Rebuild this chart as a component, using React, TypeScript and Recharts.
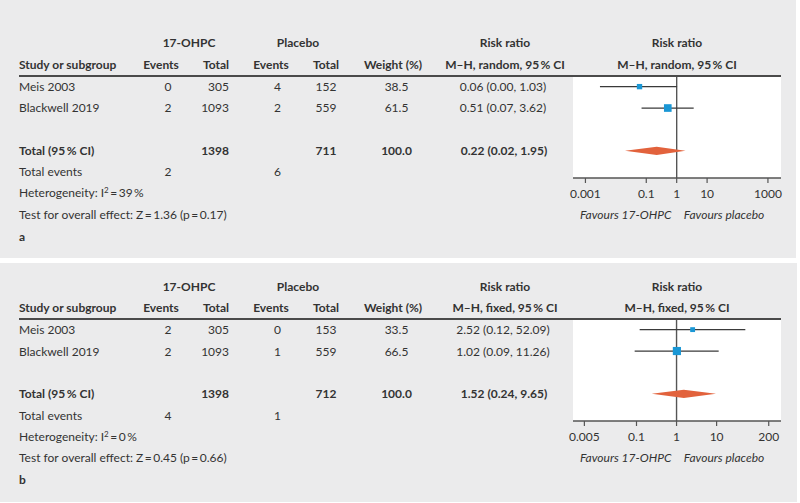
import React from 'react';
import { ScatterChart, Scatter, XAxis, YAxis, ReferenceLine, CartesianGrid } from 'recharts';

const studies = ['Meis 2003', 'Blackwell 2019'];

// a – random effects
const aEvents17 = [0, 2];
const aTotal17 = [305, 1093];
const aEventsPlacebo = [4, 2];
const aTotalPlacebo = [152, 559];
const aWeight = [38.5, 61.5];
const aRR = [0.06, 0.51];
const aLow = [0.003, 0.07];
const aHigh = [1.03, 3.62];
const aPooled = [0.22, 0.02, 1.95];
const aTicks = [0.001, 0.1, 1, 10, 1000];
const aStats = { i2: 39, z: '1.36', p: '0.17' };

// b – fixed effects
const bEvents17 = [2, 2];
const bTotal17 = [305, 1093];
const bEventsPlacebo = [0, 1];
const bTotalPlacebo = [153, 559];
const bWeight = [33.5, 66.5];
const bRR = [2.52, 1.02];
const bLow = [0.12, 0.09];
const bHigh = [52.09, 11.26];
const bPooled = [1.52, 0.24, 9.65];
const bTicks = [0.005, 0.1, 1, 10, 200];
const bStats = { i2: 0, z: '0.45', p: '0.66' };

const TEXT = '#333333';
const AXIS = '#555555';
const BLUE = '#1a97d5';
const ORANGE = '#e2623c';
const PANEL_BG = '#ebebec';
const POOLED_ROW = 3;

const sum = (arr: number[]) => arr.reduce((s, v) => s + v, 0);
const ci = (rr: number, lo: number, hi: number) => `${rr.toFixed(2)} (${lo.toFixed(2)}, ${hi.toFixed(2)})`;

function T({ x, y, align = 'left', bold, italic, children }: any) {
  const tx = align === 'center' ? '-50%' : align === 'right' ? '-100%' : '0';
  return (
    <div
      style={{
        position: 'absolute',
        left: x,
        top: y,
        transform: `translate(${tx}, -50%)`,
        whiteSpace: 'nowrap',
        lineHeight: 1,
        fontWeight: bold ? 700 : 400,
        fontStyle: italic ? 'italic' : 'normal',
      }}
    >
      {children}
    </div>
  );
}

const Square = (props: any) => {
  const s = 1.5 + props.payload.weight * 0.1;
  return <rect x={props.cx - s / 2} y={props.cy - s / 2} width={s} height={s} fill={BLUE} />;
};

const DiamondShape = (props: any) => (
  <polygon points={props.points.map((p: any) => `${p.x},${p.y}`).join(' ')} fill={ORANGE} stroke="none" />
);

function Panel({ off, label, model, events17, total17, eventsPl, totalPl, weight, rr, low, high, pooled, ticks, domain, stats }: any) {
  const squares = rr.map((v: number, i: number) => ({ x: v, y: i, weight: weight[i] }));
  const [prr, plo, phi] = pooled;
  const diamond = [
    { x: plo, y: POOLED_ROW },
    { x: prr, y: POOLED_ROW - 0.19 },
    { x: phi, y: POOLED_ROW },
    { x: prr, y: POOLED_ROW + 0.19 },
  ];
  const rowY = [86.7, 108.3];

  return (
    <div style={{ position: 'absolute', left: 0, top: off, width: 800, height: 260 }}>
      <div style={{ position: 'absolute', left: 0, top: 0 }}>
        <ScatterChart width={800} height={260} margin={{ top: 77, right: 19, bottom: 52, left: 573 }}>
          <CartesianGrid fill="#ffffff" stroke="none" horizontal={false} vertical={false} />
          <XAxis
            type="number"
            dataKey="x"
            scale="log"
            domain={domain}
            ticks={ticks}
            interval={0}
            allowDataOverflow
            tickFormatter={(v: number) => String(v)}
            tick={{ fill: TEXT, fontSize: 12, fontFamily: 'Lato' }}
            axisLine={{ stroke: AXIS, strokeWidth: 1.3 }}
            tickLine={{ stroke: AXIS, strokeWidth: 1.2 }}
            tickSize={5}
            tickMargin={6}
            height={30}
          />
          <YAxis type="number" dataKey="y" domain={[-0.45, 4.27]} reversed hide />
          <ReferenceLine x={1} stroke={AXIS} strokeWidth={1.4} />
          {rr.map((_: number, i: number) => (
            <ReferenceLine
              key={i}
              segment={[{ x: low[i], y: i }, { x: high[i], y: i }]}
              stroke="#3a3a3a"
              strokeWidth={1.3}
            />
          ))}
          <Scatter data={squares} shape={Square} isAnimationActive={false} />
          <Scatter data={diamond} shape={() => <g />} line={DiamondShape} isAnimationActive={false} />
        </ScatterChart>
      </div>

      <div style={{ position: 'absolute', left: 19, top: 75, width: 762, height: 2, background: '#4a4a4a' }} />

      <T x={189} y={43.3} align="center" bold>17-OHPC</T>
      <T x={298} y={43.3} align="center" bold>Placebo</T>
      <T x={505} y={43.3} align="center" bold>Risk ratio</T>
      <T x={677} y={43.3} align="center" bold>Risk ratio</T>

      <T x={19} y={65} bold>Study or subgroup</T>
      <T x={161} y={65} align="center" bold>Events</T>
      <T x={229} y={65} align="right" bold>Total</T>
      <T x={271} y={65} align="center" bold>Events</T>
      <T x={326} y={65} align="center" bold>Total</T>
      <T x={393} y={65} align="center" bold>Weight (%)</T>
      <T x={505} y={65} align="center" bold>{`M–H, ${model}, 95\u2009% CI`}</T>
      <T x={677} y={65} align="center" bold>{`M–H, ${model}, 95\u2009% CI`}</T>

      {studies.map((s, i) => (
        <React.Fragment key={s}>
          <T x={19} y={rowY[i]}>{s}</T>
          <T x={168} y={rowY[i]} align="center">{events17[i]}</T>
          <T x={229} y={rowY[i]} align="right">{total17[i]}</T>
          <T x={277.5} y={rowY[i]} align="center">{eventsPl[i]}</T>
          <T x={326} y={rowY[i]} align="center">{totalPl[i]}</T>
          <T x={396.5} y={rowY[i]} align="center">{weight[i].toFixed(1)}</T>
          <T x={503} y={rowY[i]} align="center">{ci(rr[i], low[i], high[i])}</T>
        </React.Fragment>
      ))}

      <T x={19} y={150.7} bold>Total (95{'\u2009'}% CI)</T>
      <T x={229} y={150.7} align="right" bold>{sum(total17)}</T>
      <T x={326} y={150.7} align="center" bold>{sum(totalPl)}</T>
      <T x={396.5} y={150.7} align="center" bold>{sum(weight).toFixed(1)}</T>
      <T x={504} y={150.7} align="center" bold>{ci(prr, plo, phi)}</T>

      <T x={19} y={172.3}>Total events</T>
      <T x={168} y={172.3} align="center">{sum(events17)}</T>
      <T x={277.5} y={172.3} align="center">{sum(eventsPl)}</T>

      <T x={19} y={193.3}>
        Heterogeneity: I
        <span style={{ fontSize: 8, position: 'relative', top: -4 }}>2</span>
        {`\u2009=\u2009${stats.i2}\u2009%`}
      </T>
      <T x={19} y={215}>{`Test for overall effect: Z\u2009=\u2009${stats.z} (p\u2009=\u2009${stats.p})`}</T>
      <T x={19} y={236.7} bold>{label}</T>

      <T x={625.7} y={215} align="center" italic>Favours 17-OHPC</T>
      <T x={724} y={215} align="center" italic>Favours placebo</T>
    </div>
  );
}

export default function App() {
  return (
    <div
      style={{
        position: 'absolute',
        left: 0,
        top: 0,
        width: 800,
        height: 503,
        background: '#ffffff',
        fontFamily: 'Lato, sans-serif',
        fontSize: 12,
        color: TEXT,
        overflow: 'hidden',
      }}
    >
      <div style={{ position: 'absolute', left: 0, top: 0, width: 796, height: 258, background: PANEL_BG }} />
      <div style={{ position: 'absolute', left: 0, top: 263, width: 797, height: 239, background: PANEL_BG }} />
      <Panel
        off={0}
        label="a"
        model="random"
        events17={aEvents17}
        total17={aTotal17}
        eventsPl={aEventsPlacebo}
        totalPl={aTotalPlacebo}
        weight={aWeight}
        rr={aRR}
        low={aLow}
        high={aHigh}
        pooled={aPooled}
        ticks={aTicks}
        domain={[0.00039, 2690]}
        stats={aStats}
      />
      <Panel
        off={243.3}
        label="b"
        model="fixed"
        events17={bEvents17}
        total17={bTotal17}
        eventsPl={bEventsPlacebo}
        totalPl={bTotalPlacebo}
        weight={bWeight}
        rr={bRR}
        low={bLow}
        high={bHigh}
        pooled={bPooled}
        ticks={bTicks}
        domain={[0.0026, 405]}
        stats={bStats}
      />
    </div>
  );
}
